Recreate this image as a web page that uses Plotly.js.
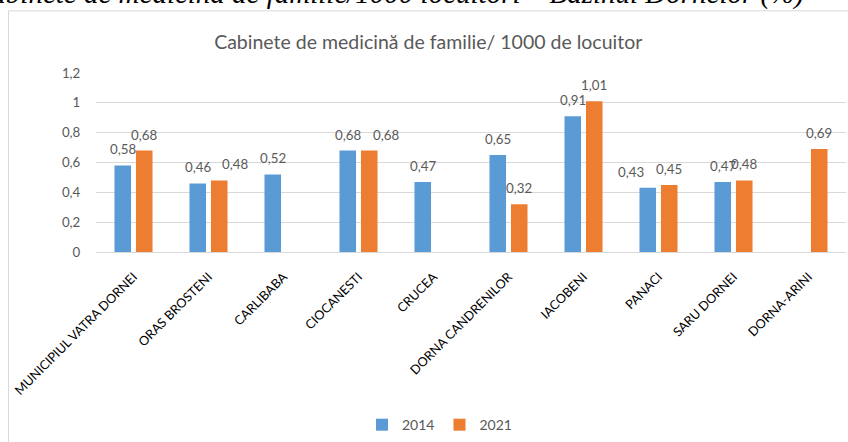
<!DOCTYPE html>
<html>
<head>
<meta charset="utf-8">
<script src="https://cdn.plot.ly/plotly-3.0.1.min.js"></script>
<style>html,body{margin:0;padding:0;background:#fff;}#chart{width:848px;height:442px;}</style>
</head>
<body>
<div id="chart"></div>
<script>
const categories = ["MUNICIPIUL VATRA DORNEI", "ORAS BROSTENI", "CARLIBABA", "CIOCANESTI", "CRUCEA",
  "DORNA CANDRENILOR", "IACOBENI", "PANACI", "SARU DORNEI", "DORNA-ARINI"];
const values2014 = [0.58, 0.46, 0.52, 0.68, 0.47, 0.65, 0.91, 0.43, 0.47, null];
const values2021 = [0.68, 0.48, null, 0.68, null, 0.32, 1.01, 0.45, 0.48, 0.69];
const seriesNames = ["2014", "2021"];
const yTicks = [0, 0.2, 0.4, 0.6, 0.8, 1, 1.2];
const chartTitle = "Cabinete de medicină de familie/ 1000 de locuitor";
const pageCaption = "Cabinete de medicină de familie/1000 locuitori – Bazinul Dornelor (%)";

const FONT = "Lato, 'Open Sans', sans-serif";
const GREY = "#595959";
const colors = ["#5B9BD5", "#ED7D31"];
// manual label nudges (px) as in the original, keyed "series-index"
const labelNudge = {"1-1": 16, "1-3": 17, "0-7": -17};

const fmt = v => v.toFixed(2).replace('.', ',');

const traces = [values2014, values2021].map((vals, i) => ({
  type: 'bar',
  name: seriesNames[i],
  x: categories,
  y: vals,
  marker: {color: colors[i]},
  hoverinfo: 'none'
}));

const annotations = [];
[values2014, values2021].forEach((vals, i) => {
  vals.forEach((v, j) => {
    if (v === null) return;
    annotations.push({
      x: categories[j], y: v, xref: 'x', yref: 'y',
      xshift: (i === 0 ? -10.75 : 10.75) + (labelNudge[i + '-' + j] || 0), yshift: 6,
      yanchor: 'bottom', xanchor: 'center',
      text: fmt(v), showarrow: false,
      font: {family: FONT, size: 13.3, color: GREY}
    });
  });
});
annotations.push({
  xref: 'paper', yref: 'paper', x: (806 - 96) / 750, y: (253 - 12) / 180,
  xanchor: 'right', yanchor: 'bottom', showarrow: false,
  text: pageCaption,
  font: {family: "'Liberation Serif', 'DejaVu Serif', serif", size: 29, color: '#000', style: 'italic'}
});

const layout = {
  width: 848, height: 442,
  margin: {l: 96, r: 2, t: 73, b: 189},
  paper_bgcolor: '#fff', plot_bgcolor: '#fff',
  separators: ', ',
  barmode: 'group', bargap: 0.427, bargroupgap: 0.23,
  title: {text: chartTitle, x: 0.505, xanchor: 'center', y: 0.905, yanchor: 'middle',
    font: {family: FONT, size: 19.5, color: GREY}},
  xaxis: {
    tickangle: -45, showgrid: false, showline: false, zeroline: false,
    ticks: '', ticklabelstandoff: 14, tickfont: {family: FONT, size: 12.7, color: '#000'}
  },
  yaxis: {
    range: [0, 1.2], tickvals: yTicks, showgrid: true, gridcolor: '#D9D9D9', gridwidth: 1,
    zeroline: true, zerolinecolor: '#D9D9D9', zerolinewidth: 1, showline: false,
    ticks: 'outside', ticklen: 12, tickcolor: 'rgba(0,0,0,0)',
    tickfont: {family: FONT, size: 13.3, color: GREY}
  },
  showlegend: true,
  legend: {orientation: 'h', x: 0.458, xanchor: 'center', y: -0.956, yanchor: 'middle',
    font: {family: FONT, size: 14, color: GREY}, itemwidth: 30, traceorder: 'normal'},
  annotations: annotations,
  shapes: [{
    type: 'rect', xref: 'paper', yref: 'paper',
    x0: (8.5 - 96) / 750, x1: 1.2, y0: -1.2, y1: (253 - 10.5) / 180,
    line: {color: '#D9D9D9', width: 1}, fillcolor: 'rgba(0,0,0,0)', layer: 'below'
  }]
};

Plotly.newPlot('chart', traces, layout, {staticPlot: true, displayModeBar: false});
</script>
</body>
</html>
